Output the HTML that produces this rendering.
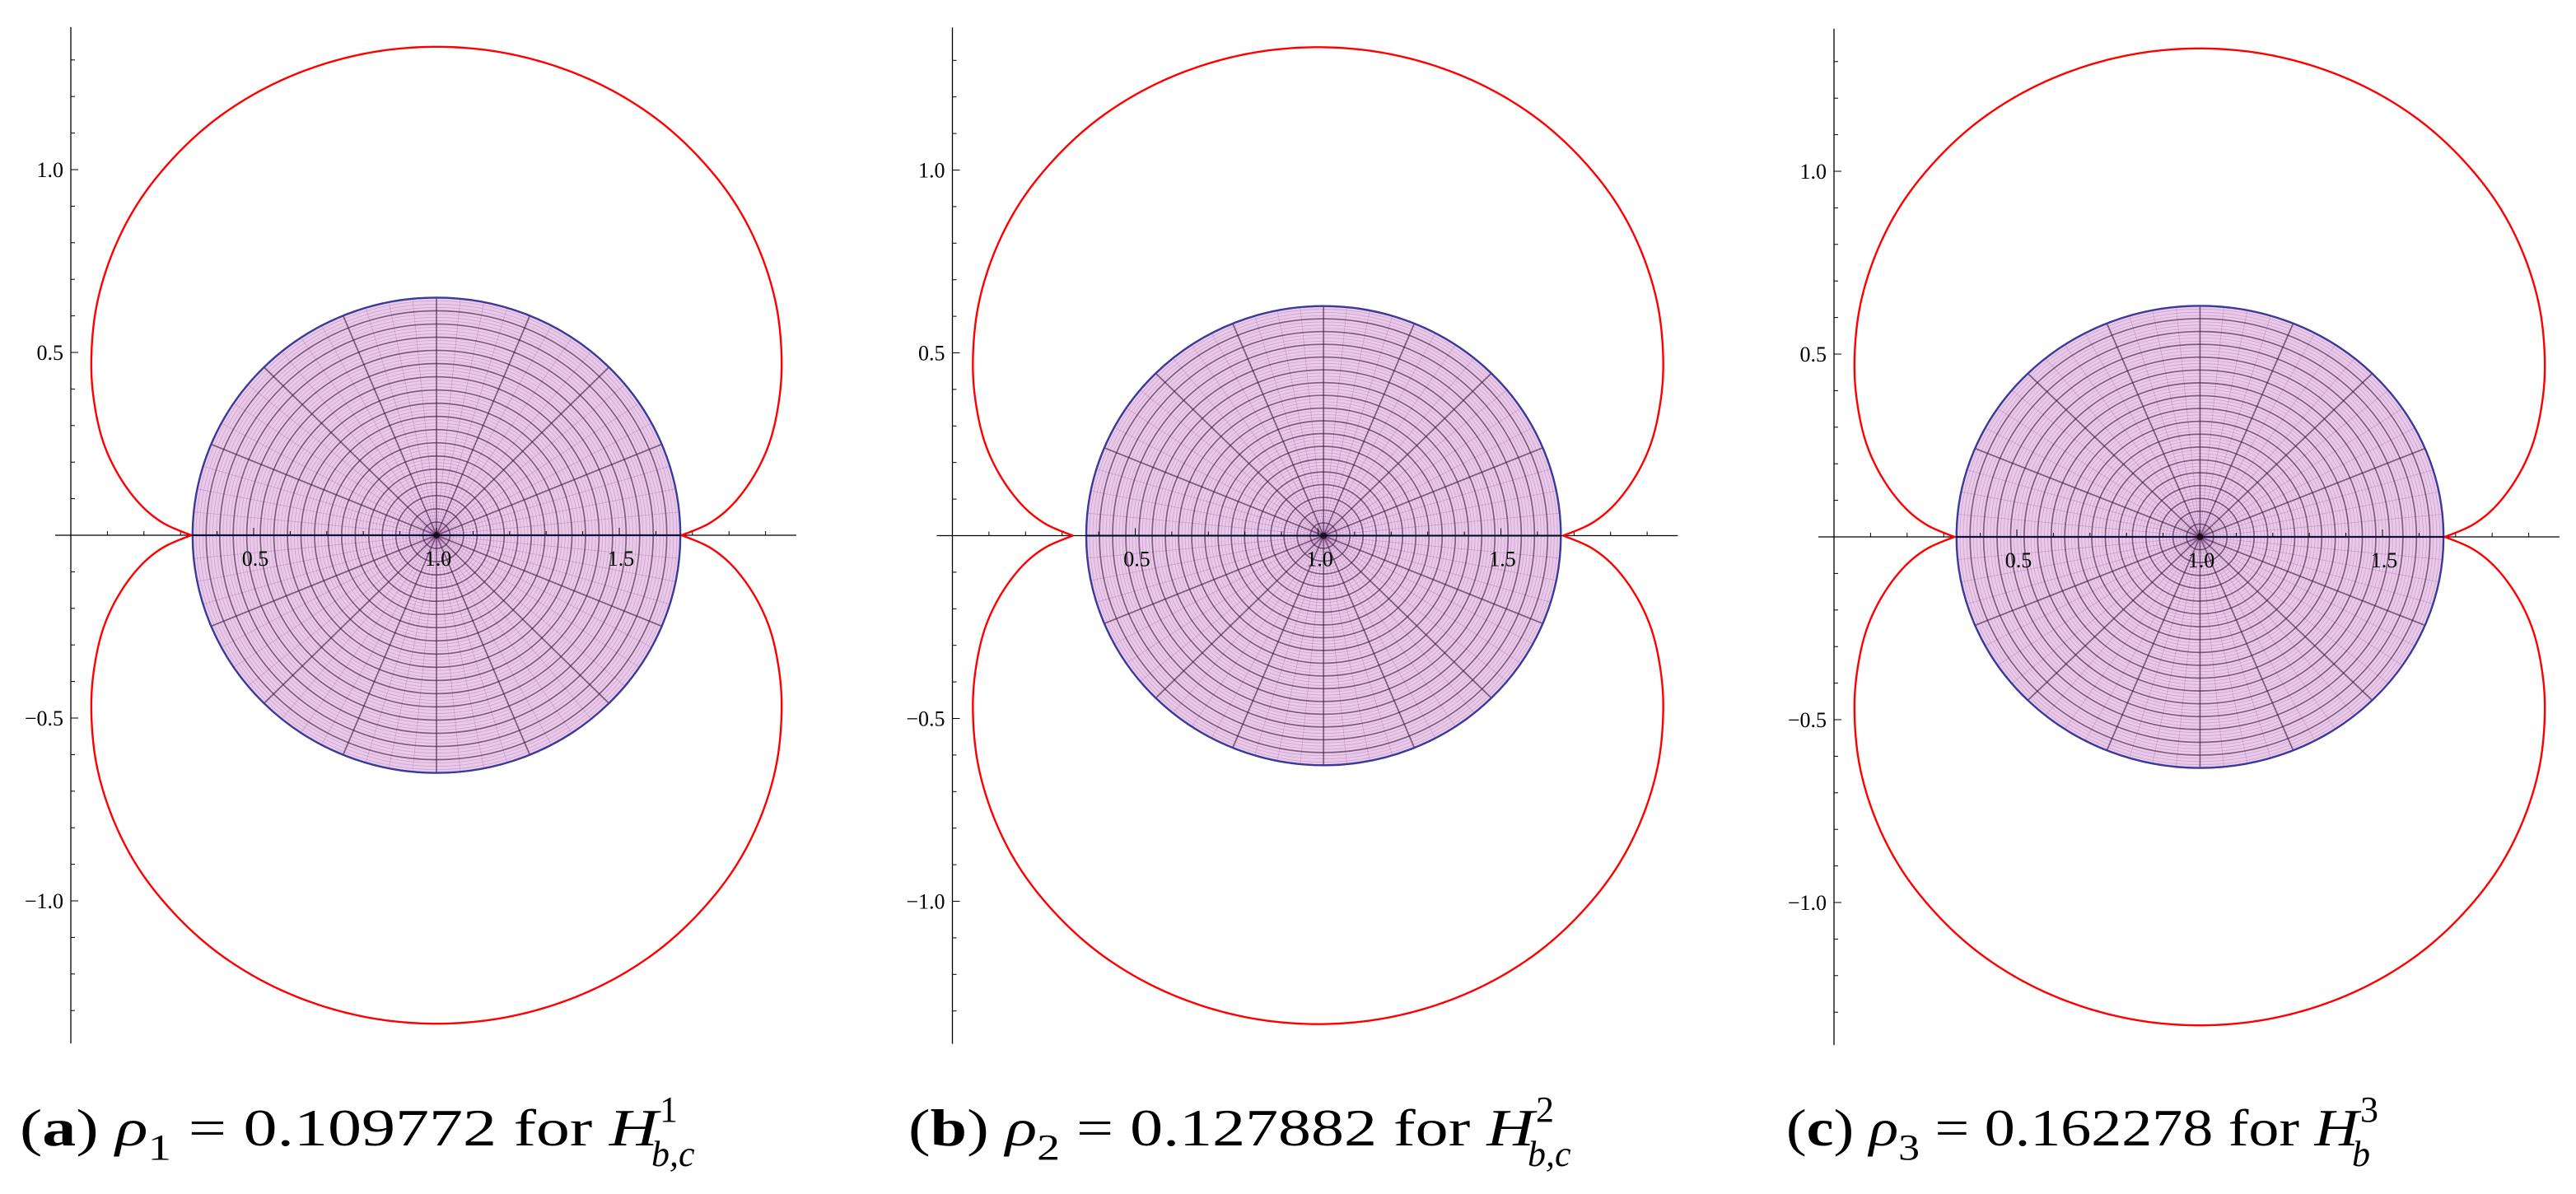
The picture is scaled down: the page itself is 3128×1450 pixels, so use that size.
<!DOCTYPE html>
<html><head><meta charset="utf-8">
<style>
html,body{margin:0;padding:0;background:#fff;}
svg{display:block;}
text{font-family:"Liberation Serif",serif;}
</style></head>
<body>
<svg id="chart" width="3128" height="1450" viewBox="0 0 3128 1450" xmlns="http://www.w3.org/2000/svg"></svg>
<script>
// Red boundary curve: upper-left quarter (mirrored about x=1 and y=0)
const redX = [0.330, 0.255, 0.195, 0.135, 0.090, 0.064, 0.056, 0.070, 0.113, 0.182, 0.277, 0.393, 0.528, 0.677, 0.836, 1.0];
const redY = [0.0, 0.032, 0.079, 0.157, 0.251, 0.363, 0.475, 0.625, 0.770, 0.906, 1.028, 1.135, 1.221, 1.284, 1.323, 1.336];
// Disk parameters per panel
const panelNames = ["a", "b", "c"];
const diskCx = [1.0, 1.015, 1.001];
const diskRx = [0.667, 0.649, 0.666];
const diskRy = [0.650, 0.628, 0.632];
const yTickLabels = [1.0, 0.5, -0.5, -1.0];
const xTickLabels = [0.5, 1.0, 1.5];
const captionLabel = ["a", "b", "c"];
const captionSub = ["1", "2", "3"];
const captionValue = ["0.109772", "0.127882", "0.162278"];
const captionSup = ["1", "2", "3"];
const captionHSub = ["b,c", "b,c", "b"];

// layout (not data)
const originX = [86, 1156.5, 2227];
const originY = [650, 650.5, 652];
const captionX = [24, 1103, 2169];
const captionW = [775, 760, 695];
const S = 444;
const NS = "http://www.w3.org/2000/svg";
const svg = document.getElementById("chart");

function mk(tag, attrs, parent) {
  const e = document.createElementNS(NS, tag);
  for (const k in attrs) e.setAttribute(k, attrs[k]);
  (parent || svg).appendChild(e);
  return e;
}

// centripetal Catmull-Rom sampled into a polyline
function smoothPath(pts) {
  const out = [pts[0]];
  for (let i = 0; i < pts.length - 1; i++) {
    const P0 = pts[Math.max(0, i - 1)], P1 = pts[i], P2 = pts[i + 1], P3 = pts[Math.min(pts.length - 1, i + 2)];
    const dt = (a, b) => Math.max(1e-3, Math.pow(Math.hypot(b[0] - a[0], b[1] - a[1]), 0.5));
    const t0 = 0, t1 = t0 + dt(P0, P1), t2 = t1 + dt(P1, P2), t3 = t2 + dt(P2, P3);
    for (let s = 1; s <= 16; s++) {
      const t = t1 + (t2 - t1) * s / 16;
      const L = (A, B, ta, tb) => [A[0] * (tb - t) / (tb - ta) + B[0] * (t - ta) / (tb - ta), A[1] * (tb - t) / (tb - ta) + B[1] * (t - ta) / (tb - ta)];
      const A1 = L(P0, P1, t0, t1), A2 = L(P1, P2, t1, t2), A3 = L(P2, P3, t2, t3);
      const B1 = L(A1, A2, t0, t2), B2 = L(A2, A3, t1, t3);
      out.push(L(B1, B2, t1, t2));
    }
  }
  return "M" + out.map(q => q[0].toFixed(2) + "," + q[1].toFixed(2)).join("L");
}

for (let p = 0; p < 3; p++) {
  const ox = originX[p], oy = originY[p];
  const X = v => ox + v * S;
  const Y = v => oy - v * S;
  const g = mk("g", {});
  
  

  const dg = mk("g", {}, g);
  
  
  const cx = X(diskCx[p]), cy = Y(0), rx = diskRx[p] * S, ry = diskRy[p] * S;
  mk("ellipse", {cx: cx, cy: cy, rx: rx, ry: ry, fill: "#e9cbe9"}, dg);
  for (let k = 1; k <= 72; k++) {
    const f = k / 72;
    mk("ellipse", {cx: cx, cy: cy, rx: rx * f, ry: ry * f, fill: "none", stroke: "#b070b8", "stroke-width": 0.8, "stroke-opacity": 0.45}, dg);
  }
  for (let k = 0; k < 64; k++) {
    const a = k * Math.PI * 2 / 64;
    mk("line", {x1: cx, y1: cy, x2: cx + rx * Math.cos(a), y2: cy - ry * Math.sin(a), stroke: "#b070b8", "stroke-width": 0.8, "stroke-opacity": 0.45}, dg);
  }
  for (let k = 1; k <= 18; k++) {
    const f = k / 18;
    mk("ellipse", {cx: cx, cy: cy, rx: rx * f, ry: ry * f, fill: "none", stroke: "#3a1a3a", "stroke-width": 1.8, "stroke-opacity": 0.55}, dg);
  }
  for (let k = 0; k < 16; k++) {
    const a = k * Math.PI * 2 / 16;
    mk("line", {x1: cx, y1: cy, x2: cx + rx * Math.cos(a), y2: cy - ry * Math.sin(a), stroke: "#3a1a3a", "stroke-width": 1.8, "stroke-opacity": 0.55}, dg);
  }
  mk("ellipse", {cx: cx, cy: cy, rx: rx, ry: ry, fill: "none", stroke: "#3a3a9a", "stroke-width": 2.4}, dg);
  mk("line", {x1: cx - rx, y1: cy, x2: cx + rx, y2: cy, stroke: "#2a2a8a", "stroke-width": 2.2}, dg);
  mk("circle", {cx: cx, cy: cy, r: 4, fill: "#2a1030"}, dg);

  const ax = mk("line", {x1: ox - 19, y1: oy, x2: X(1.984), y2: oy, stroke: "#000", "stroke-width": 1.3}, g);
  
  
  const ay = mk("line", {x1: ox, y1: Y(1.39), x2: ox, y2: Y(-1.39), stroke: "#000", "stroke-width": 1.3}, g);
  
  
  for (let k = -13; k <= 13; k++) {
    if (k === 0) continue;
    const major = k % 5 === 0;
    mk("line", {x1: ox, y1: Y(k / 10), x2: ox + (major ? 9 : 5), y2: Y(k / 10), stroke: "#000", "stroke-width": 1}, g);
  }
  for (let k = 1; k <= 19; k++) {
    const major = k % 5 === 0;
    mk("line", {x1: X(k / 10), y1: oy, x2: X(k / 10), y2: oy - (major ? 9 : 5), stroke: "#000", "stroke-width": 1}, g);
  }
  yTickLabels.forEach(v => {
    const t = mk("text", {x: ox - 9, y: Y(v) + 9, "text-anchor": "end", "font-size": 26, fill: "#000"}, g);
    t.textContent = (v < 0 ? "\u2212" : "") + Math.abs(v).toFixed(1);
    
    
  });
  xTickLabels.forEach(v => {
    const t = mk("text", {x: X(v) + 2, y: oy + 37, "text-anchor": "middle", "font-size": 26, fill: "#000"}, g);
    t.textContent = v.toFixed(1);
    
    
  });

  const pts = [];
  for (let i = 0; i < redX.length; i++) pts.push([X(redX[i]), Y(redY[i])]);
  for (let i = redX.length - 2; i >= 0; i--) pts.push([X(2 - redX[i]), Y(redY[i])]);
  const upper = smoothPath(pts);
  const lower = smoothPath(pts.map(q => [q[0], 2 * oy - q[1]]));
  const r1 = mk("path", {d: upper, fill: "none", stroke: "#ff0000", "stroke-width": 2.4, "stroke-linejoin": "round"}, g);
  
  
  const r2 = mk("path", {d: lower, fill: "none", stroke: "#ff0000", "stroke-width": 2.4, "stroke-linejoin": "round"}, g);
  
  

  const cap = mk("text", {x: captionX[p], y: 1391, "font-size": 63, fill: "#000", textLength: captionW[p], lengthAdjust: "spacingAndGlyphs"}, g);
  
  
  const parts = [
    ["(", {}], [captionLabel[p], {"font-weight": "bold"}], [") ", {}],
    ["\u03C1", {"font-style": "italic"}], [captionSub[p], {"font-size": 44, dy: 17}],
    [" = " + captionValue[p] + " for ", {dy: -17}], ["H", {"font-style": "italic"}]
  ];
  parts.forEach(pt => {
    const ts = mk("tspan", pt[1], cap);
    ts.textContent = pt[0];
  });
  const hEnd = captionX[p] + captionW[p];
  const sup = mk("text", {x: hEnd + 2, y: 1362, "font-size": 44, fill: "#000"}, g);
  sup.textContent = captionSup[p];
  
  
  const sub = mk("text", {x: hEnd - 8, y: 1416, "font-size": 44, "font-style": "italic", fill: "#000"}, g);
  sub.textContent = captionHSub[p];
  
  
}
</script>
</body></html>
